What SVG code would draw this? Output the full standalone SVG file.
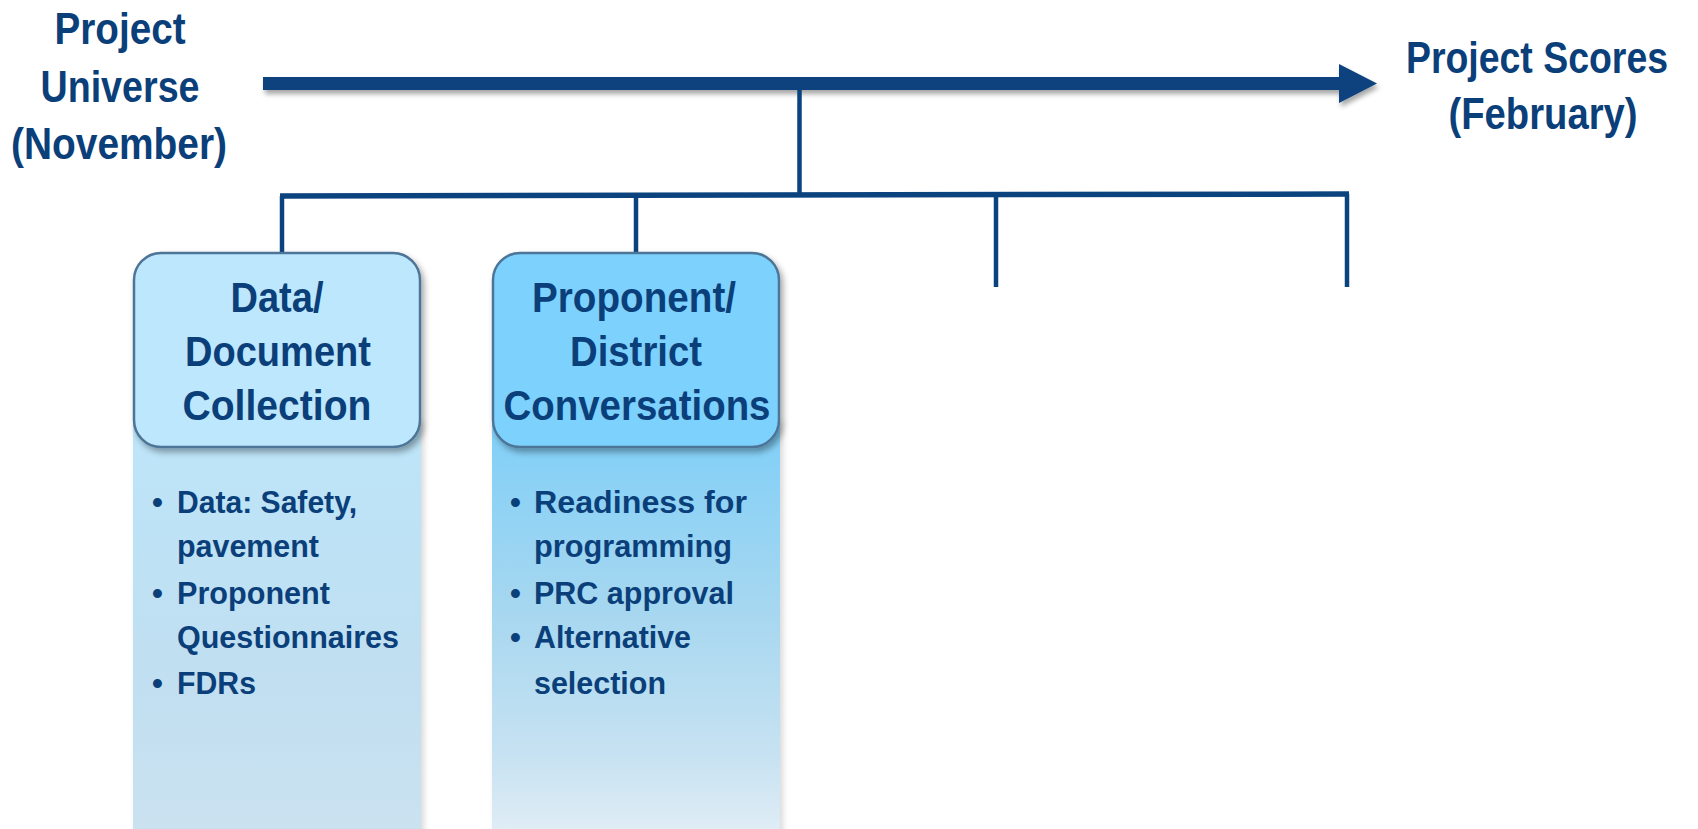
<svg xmlns="http://www.w3.org/2000/svg" width="1698" height="829" viewBox="0 0 1698 829">
<defs>
<style>
text{font-family:"Liberation Sans",Arial,sans-serif;font-weight:bold;fill:#0b3f7a;}
.big{font-size:44px;text-anchor:middle;}
.hd{font-size:42px;text-anchor:middle;}
.bl{font-size:31px;}
.ln{stroke:#0b437e;fill:none;}
.hdr{stroke:#4d7597;stroke-width:2.5;}
</style>
<linearGradient id="g1" x1="0" y1="0" x2="0" y2="1">
<stop offset="0" stop-color="#bde5f9"/>
<stop offset="0.6" stop-color="#c0dff1"/>
<stop offset="1" stop-color="#cbe2f0"/>
</linearGradient>
<linearGradient id="g2" x1="0" y1="0" x2="0" y2="1">
<stop offset="0" stop-color="#7fcff8"/>
<stop offset="0.45" stop-color="#a6d7f0"/>
<stop offset="0.8" stop-color="#c7e2f2"/>
<stop offset="1" stop-color="#e2eef6"/>
</linearGradient>
<filter id="sh" x="-10%" y="-10%" width="130%" height="130%">
<feDropShadow dx="3" dy="4" stdDeviation="3" flood-color="#000" flood-opacity="0.35"/>
</filter>
<filter id="sh2" x="-5%" y="-5%" width="115%" height="115%">
<feDropShadow dx="3" dy="2" stdDeviation="3" flood-color="#000" flood-opacity="0.15"/>
</filter>
<filter id="ash" x="-5%" y="-50%" width="110%" height="250%">
<feDropShadow dx="2" dy="4" stdDeviation="2.5" flood-color="#000" flood-opacity="0.35"/>
</filter>
</defs>
<rect x="0" y="0" width="1698" height="829" fill="#ffffff"/>

<g id="connectors">
<path d="M263 77 H1339 V64 L1377 83.5 L1339 103 V90 H263 Z" fill="#0b437e" filter="url(#ash)"/>
<line class="ln" x1="799.5" y1="90" x2="799.5" y2="196" stroke-width="4.5"/>
<line class="ln" x1="280" y1="196" x2="1349" y2="194" stroke-width="5.5"/>
<line class="ln" x1="282" y1="196" x2="282" y2="253" stroke-width="4.5"/>
<line class="ln" x1="636" y1="196" x2="636" y2="253" stroke-width="4.5"/>
<line class="ln" x1="996" y1="195" x2="996" y2="287" stroke-width="4.5"/>
<line class="ln" x1="1347" y1="194" x2="1347" y2="287" stroke-width="4.5"/>
</g>

<g id="start-label">
<text class="big" x="120" y="44" textLength="131" lengthAdjust="spacingAndGlyphs">Project</text>
<text class="big" x="120" y="102" textLength="159" lengthAdjust="spacingAndGlyphs">Universe</text>
<text class="big" x="119" y="159" textLength="216" lengthAdjust="spacingAndGlyphs">(November)</text>
</g>

<g id="end-label">
<text class="big" x="1537" y="73" textLength="262" lengthAdjust="spacingAndGlyphs">Project Scores</text>
<text class="big" x="1543" y="129" textLength="189" lengthAdjust="spacingAndGlyphs">(February)</text>
</g>

<g id="node-data">
<rect x="133" y="420" width="288" height="420" fill="url(#g1)" filter="url(#sh2)"/>
<rect class="hdr" x="134" y="253" width="286" height="194" rx="27" fill="#bde7fd" filter="url(#sh)"/>
<text class="hd" x="277" y="312" textLength="93" lengthAdjust="spacingAndGlyphs">Data/</text>
<text class="hd" x="278" y="366" textLength="186" lengthAdjust="spacingAndGlyphs">Document</text>
<text class="hd" x="277" y="420" textLength="189" lengthAdjust="spacingAndGlyphs">Collection</text>
<text class="bl" x="152" y="513">•</text>
<text class="bl" x="177" y="513" textLength="180" lengthAdjust="spacingAndGlyphs">Data: Safety,</text>
<text class="bl" x="177" y="557" textLength="142" lengthAdjust="spacingAndGlyphs">pavement</text>
<text class="bl" x="152" y="604">•</text>
<text class="bl" x="177" y="604" textLength="153" lengthAdjust="spacingAndGlyphs">Proponent</text>
<text class="bl" x="177" y="648" textLength="222" lengthAdjust="spacingAndGlyphs">Questionnaires</text>
<text class="bl" x="152" y="694">•</text>
<text class="bl" x="177" y="694" textLength="79" lengthAdjust="spacingAndGlyphs">FDRs</text>
</g>

<g id="node-proponent">
<rect x="492" y="420" width="288" height="420" fill="url(#g2)" filter="url(#sh2)"/>
<rect class="hdr" x="493" y="253" width="286" height="194" rx="27" fill="#7dd1fd" filter="url(#sh)"/>
<text class="hd" x="634" y="312" textLength="204" lengthAdjust="spacingAndGlyphs">Proponent/</text>
<text class="hd" x="636" y="366" textLength="132" lengthAdjust="spacingAndGlyphs">District</text>
<text class="hd" x="637" y="420" textLength="267" lengthAdjust="spacingAndGlyphs">Conversations</text>
<text class="bl" x="510" y="513">•</text>
<text class="bl" x="534" y="513" textLength="213" lengthAdjust="spacingAndGlyphs">Readiness for</text>
<text class="bl" x="534" y="557" textLength="198" lengthAdjust="spacingAndGlyphs">programming</text>
<text class="bl" x="510" y="604">•</text>
<text class="bl" x="534" y="604" textLength="200" lengthAdjust="spacingAndGlyphs">PRC approval</text>
<text class="bl" x="510" y="648">•</text>
<text class="bl" x="534" y="648" textLength="157" lengthAdjust="spacingAndGlyphs">Alternative</text>
<text class="bl" x="534" y="694" textLength="132" lengthAdjust="spacingAndGlyphs">selection</text>
</g>
</svg>
